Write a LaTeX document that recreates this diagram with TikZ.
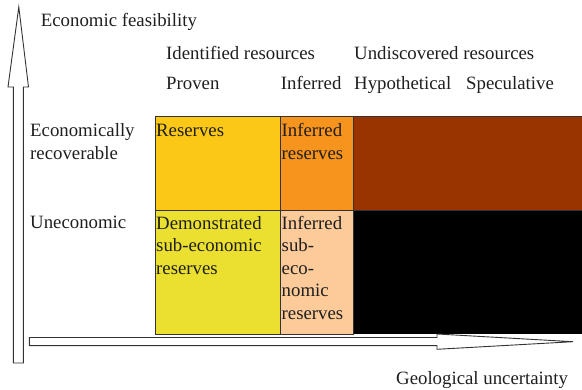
\documentclass[tikz,border=0pt]{standalone}
\usepackage{fontspec}
\setmainfont{Liberation Serif}
\begin{document}
\begin{tikzpicture}[x=1pt,y=-1pt,
  lbl/.style={anchor=base west,inner sep=0pt,text=black!88,font=\rmfamily\fontsize{18.8}{21}\selectfont},
  cell/.style={draw=black!80,line width=0.9pt},
  arrowshape/.style={draw=black!80,fill=white,line width=0.9pt,line join=miter}]
\useasboundingbox (0,0) rectangle (582,390);
% cells
\fill[black] (353,210) rectangle (582,334);
\path[cell,fill={rgb,255:red,153;green,51;blue,0}] (353,116.7) rectangle (583,210);
\path[cell,fill={rgb,255:red,251;green,200;blue,23}] (155,116.7) rectangle (280.3,210);
\path[cell,fill={rgb,255:red,247;green,148;blue,30}] (280.3,116.7) rectangle (353.3,210);
\path[cell,fill={rgb,255:red,235;green,224;blue,48}] (155,210) rectangle (280.3,334);
\path[cell,fill={rgb,255:red,253;green,202;blue,154}] (280.3,210) rectangle (353.3,334);
% arrows
\path[arrowshape] (13.3,363) -- (13.3,87) -- (8,87) -- (18.8,7) -- (28.5,87) -- (23.3,87) -- (23.3,363) -- cycle;
\path[arrowshape] (29.3,337.5) -- (437,337.5) -- (437,334) -- (573,341.7) -- (437,349.3) -- (437,345.7) -- (29.3,345.7) -- cycle;
% header texts
\node[lbl] (ef) at (40.7,27) {Economic feasibility};
\node[lbl] (ir) at (166,59.3) {Identified resources};
\node[lbl] (ur) at (354,59.3) {Undiscovered resources};
\node[lbl] (pr) at (166,90) {Proven};
\node[lbl] (inf) at (280.7,90) {Inferred};
\node[lbl] (hy) at (354,90) {Hypothetical};
\node[lbl] (sp) at (466,90) {Speculative};
\node[lbl] (er1) at (30,136.7) {Economically};
\node[lbl] (er2) at (30,159.3) {recoverable};
\node[lbl] (un) at (30,228.5) {Uneconomic};
\node[lbl] (gu) at (396,385) {Geological uncertainty};
% cell texts
\node[lbl] (res) at (156,136.7) {Reserves};
\node[lbl] (irs1) at (281.5,136.7) {Inferred};
\node[lbl] (irs2) at (281.5,159.3) {reserves};
\node[lbl] (ds1) at (156,229.3) {Demonstrated};
\node[lbl] (ds2) at (156,251.8) {sub-economic};
\node[lbl] (ds3) at (156,274.3) {reserves};
\node[lbl] (is1) at (281.5,229.3) {Inferred};
\node[lbl] (is2) at (281.5,251.8) {sub-};
\node[lbl] (is3) at (281.5,274.3) {eco-};
\node[lbl] (is4) at (281.5,296.8) {nomic};
\node[lbl] (is5) at (281.5,319.3) {reserves};
\end{tikzpicture}
\end{document}
